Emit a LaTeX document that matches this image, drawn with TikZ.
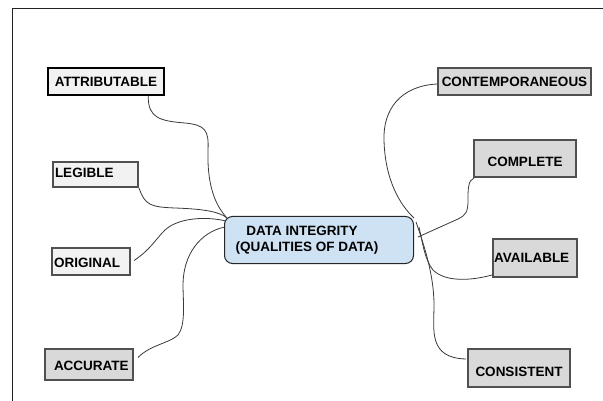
\documentclass[tikz,border=0pt]{standalone}
\usepackage{fontspec}
\setmainfont{Liberation Sans}
\usetikzlibrary{calc}
\definecolor{lightbox}{HTML}{F2F2F2}
\definecolor{darkbox}{HTML}{D9D9D9}
\definecolor{bluebox}{HTML}{CFE2F3}
\definecolor{edgegray}{HTML}{505050}
\definecolor{linegray}{HTML}{3A3A3A}
\definecolor{framegray}{HTML}{222222}
\begin{document}
\begin{tikzpicture}[x=1pt,y=-1pt,
  every node/.style={font=\fontsize{13.5}{16}\selectfont\bfseries, text=black},
  qbox/.style={draw=edgegray, line width=2pt, inner ysep=0pt, inner xsep=0pt},
  lightq/.style={qbox, fill=lightbox},
  darkq/.style={qbox, fill=darkbox},
  conn/.style={draw=linegray, line width=0.8pt},
  frameline/.style={draw=framegray, line width=1pt}]
% canvas
\fill[white] (0,0) rectangle (603,401);
\useasboundingbox (0,0) rectangle (603,401);
\draw[frameline] (603,9) -- (12,9) -- (12,401);

% nodes
\node[lightq, draw=black, line width=2.5pt, minimum width=116pt, minimum height=27pt] (attr) at (106,81.5) {ATTRIBUTABLE};
\node[lightq, text width=81pt, inner xsep=2pt, align=left, minimum height=25pt, text depth=3pt] (leg) at (95.5,174.5) {LEGIBLE};
\node[lightq, text width=74pt, inner xsep=2pt, align=left, minimum height=27pt, text height=12.7pt] (orig) at (91,261.5) {ORIGINAL};
\node[darkq, text width=70pt, inner xsep=9pt, align=left, minimum height=31pt, text height=12.7pt] (acc) at (89,364.5) {ACCURATE};
\node[darkq, minimum width=153pt, minimum height=27pt] (cont) at (514.5,81.5) {CONTEMPORANEOUS};
\node[darkq, minimum width=102pt, minimum height=37pt, text height=16.5pt] (comp) at (525,158.5) {COMPLETE};
\node[darkq, text width=82pt, inner xsep=1pt, align=left, minimum height=38pt] (avail) at (535,258) {AVAILABLE};
\node[darkq, minimum width=102pt, minimum height=38pt, text height=17.5pt] (cons) at (519,368) {CONSISTENT};
\node[draw=black!85, fill=bluebox, rounded corners=8pt, line width=1pt, minimum width=189pt, minimum height=47pt, inner sep=0pt] (core) at (319,240)
  {\begin{tabular}{@{}c@{}}DATA INTEGRITY\hspace*{10pt}\\(QUALITIES OF DATA)\end{tabular}\hspace*{24pt}};

% connectors (left)
\draw[conn] ($(attr.south east)+(-17,0)$) .. controls (148,118) and (160,121) .. (185,123)
  .. controls (205,125) and (209,130) .. (208,150)
  .. controls (207,185) and (215,205) .. ($(core.north west)+(3,2)$);
\draw[conn] (leg.south east) .. controls (145,205) and (150,207) .. (175,208)
  .. controls (205,209) and (220,212) .. ($(core.north west)+(3,2)$);
\draw[conn] ($(orig.east)+(3,-1)$) .. controls (150,250) and (155,240) .. (165,230)
  .. controls (178,218) and (205,216) .. ($(core.north west)+(2,5)$);
\draw[conn] ($(acc.east)+(4,-7)$) .. controls (150,345) and (170,343) .. (178,335)
  .. controls (186,325) and (183,300) .. (183,285)
  .. controls (183,255) and (200,232) .. ($(core.north west)+(1,11)$);

% connectors (right)
\draw[conn] ($(cont.west)+(0,2.5)$) .. controls (400,86) and (383,110) .. (384,140)
  .. controls (385,180) and (400,205) .. ($(core.north east)+(0,2)$);
\draw[conn] ($(comp.south west)+(1,0)$) .. controls (468,180) and (468,190) .. (468,200)
  .. controls (468,212) and (466,215) .. (458,219) -- ($(core.east)+(4,-3)$);
\draw[conn] ($(avail.west)+(0,17)$) .. controls (470,281) and (445,282) .. (433,270)
  .. controls (425,260) and (423,245) .. ($(core.north east)+(5,11)$);
\draw[conn] ($(cons.west)+(-1,-9)$) .. controls (428,358) and (434,330) .. (434,305)
  .. controls (434,275) and (424,245) .. ($(core.north east)+(2,6)$);
\end{tikzpicture}
\end{document}
